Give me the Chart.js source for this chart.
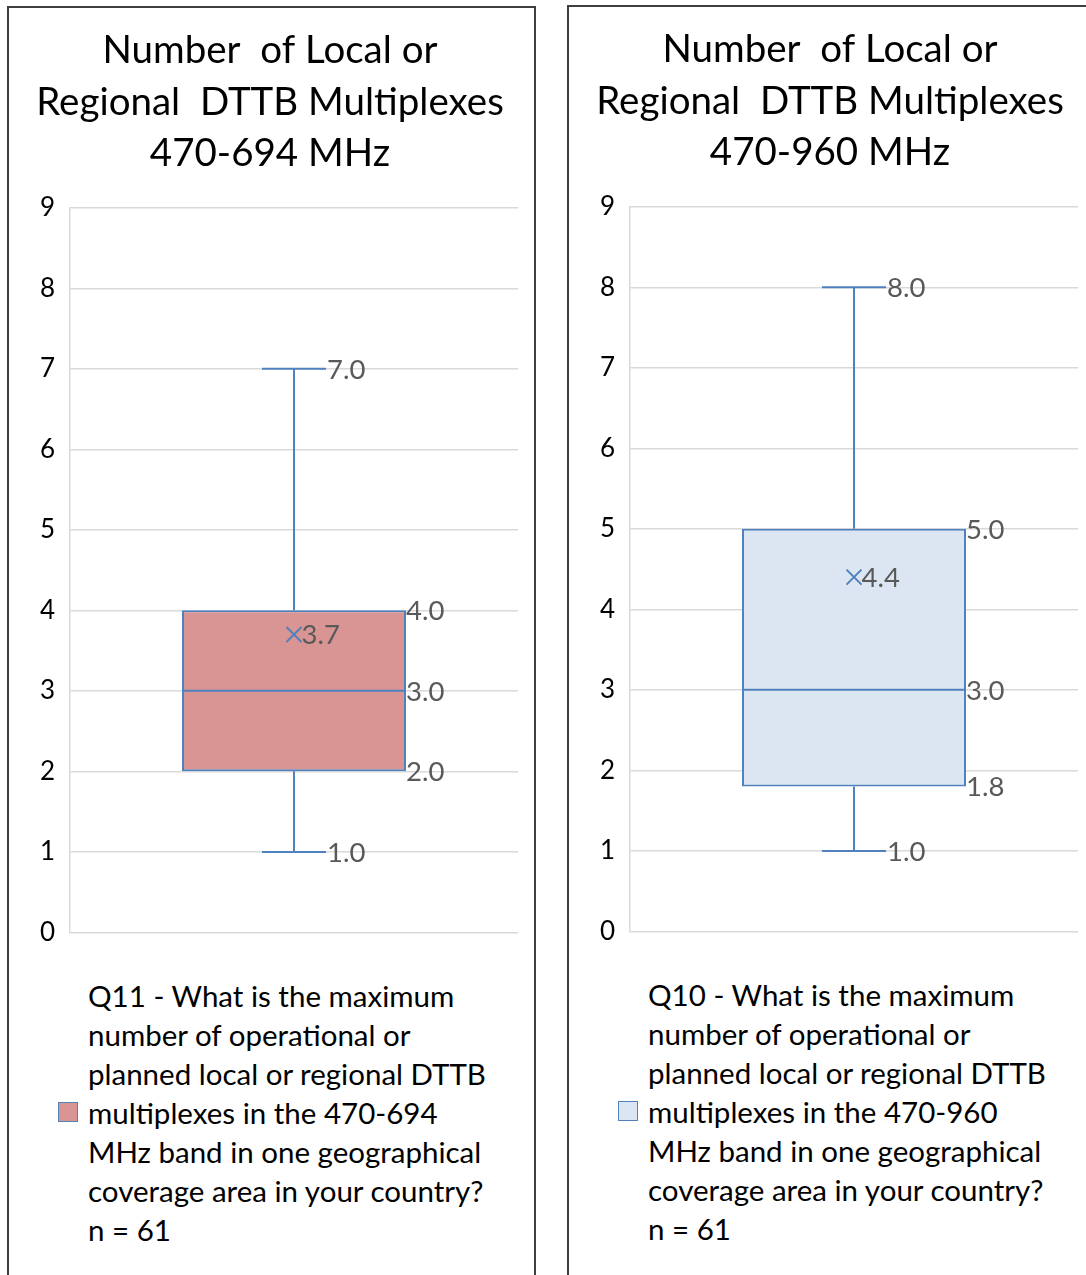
<!DOCTYPE html>
<html>
<head>
<meta charset="utf-8">
<script src="https://cdn.jsdelivr.net/npm/chart.js@4.4.1/dist/chart.umd.min.js"></script>
<style>
  html, body { margin: 0; padding: 0; background: #fff; width: 1086px; height: 1275px; overflow: hidden; }
  .panel { position: absolute; box-sizing: border-box; border: 2px solid #3f3f3f; height: 1320px; background: #fff; }
  #p1 { left: 7px; top: 6px; width: 529px; }
  #p2 { left: 567px; top: 5px; width: 560px; }
  .wrap { position: absolute; left: 13px; top: 0; width: 496px; height: 955px; }
  .legend { position: absolute; left: 49px; top: 968px; width: 460px; font-family: Lato, sans-serif; font-size: 29.5px; line-height: 39px; color: #000; white-space: nowrap; }
  .legend .txt { margin-left: 30px; }
  .legend .sw { position: absolute; left: 0; top: 126px; width: 20px; height: 20px; border: 1.5px solid #4f81bd; box-sizing: border-box; }
</style>
</head>
<body>
<div class="panel" id="p1">
  <div class="wrap"><canvas id="c1"></canvas></div>
  <div class="legend"><span class="sw" style="background:#d99594"></span><div class="txt" id="lg1"></div></div>
</div>
<div class="panel" id="p2">
  <div class="wrap"><canvas id="c2"></canvas></div>
  <div class="legend"><span class="sw" style="background:#dce6f2"></span><div class="txt" id="lg2"></div></div>
</div>
<script>
// Five-number summaries plus mean for the two survey questions
const titlesLow  = ['Number  of Local or', 'Regional  DTTB Multiplexes', '470-694 MHz'];
const titlesHigh = ['Number  of Local or', 'Regional  DTTB Multiplexes', '470-960 MHz'];
const statsLow  = { min: 1.0, q1: 2.0, median: 3.0, q3: 4.0, max: 7.0, mean: 3.7 };
const statsHigh = { min: 1.0, q1: 1.8, median: 3.0, q3: 5.0, max: 8.0, mean: 4.4 };
const legendLow  = ['Q11 - What is the maximum', 'number of operational or', 'planned local or regional DTTB', 'multiplexes in the 470-694', 'MHz band in one geographical', 'coverage area in your country?', 'n = 61'];
const legendHigh = ['Q10 - What is the maximum', 'number of operational or', 'planned local or regional DTTB', 'multiplexes in the 470-960', 'MHz band in one geographical', 'coverage area in your country?', 'n = 61'];
const yTicks = [0, 1, 2, 3, 4, 5, 6, 7, 8, 9];

const LINE = '#4f81bd';
const LABEL = '#595959';
const FONT = 'Lato, sans-serif';

// Whiskers, median, mean marker and value labels, placed via the y scale
const boxPlotExtras = {
  id: 'boxPlotExtras',
  afterDatasetsDraw(chart, args, opts) {
    const s = opts.stats;
    const y = chart.scales.y;
    const bar = chart.getDatasetMeta(0).data[0];
    const cx = bar.x;
    const half = bar.width / 2;
    const capHalf = bar.width * 0.143;
    const py = v => y.getPixelForValue(v);
    const ctx = chart.ctx;
    ctx.save();
    ctx.strokeStyle = LINE;
    ctx.lineWidth = 2;
    ctx.beginPath();
    // upper whisker
    ctx.moveTo(cx, py(s.q3)); ctx.lineTo(cx, py(s.max));
    ctx.moveTo(cx - capHalf, py(s.max)); ctx.lineTo(cx + capHalf, py(s.max));
    // lower whisker
    ctx.moveTo(cx, py(s.q1)); ctx.lineTo(cx, py(s.min));
    ctx.moveTo(cx - capHalf, py(s.min)); ctx.lineTo(cx + capHalf, py(s.min));
    // median
    ctx.moveTo(cx - half, py(s.median)); ctx.lineTo(cx + half, py(s.median));
    ctx.stroke();
    // mean marker
    const m = 7.5;
    const my = py(s.mean);
    ctx.beginPath();
    ctx.moveTo(cx - m, my - m); ctx.lineTo(cx + m, my + m);
    ctx.moveTo(cx - m, my + m); ctx.lineTo(cx + m, my - m);
    ctx.stroke();
    // value labels
    ctx.fillStyle = LABEL;
    ctx.font = '27.5px ' + FONT;
    ctx.textAlign = 'left';
    ctx.textBaseline = 'middle';
    const f = v => v.toFixed(1);
    ctx.fillText(f(s.max), cx + capHalf + 1, py(s.max) + 1);
    ctx.fillText(f(s.min), cx + capHalf + 1, py(s.min) + 1);
    ctx.fillText(f(s.q3), cx + half, py(s.q3) + 1);
    ctx.fillText(f(s.median), cx + half, py(s.median) + 1);
    ctx.fillText(f(s.q1), cx + half, py(s.q1) + 1);
    ctx.fillText(f(s.mean), cx + m, my + 1);
    ctx.restore();
  }
};

function makeChart(id, titleLines, stats, fill) {
  return new Chart(document.getElementById(id), {
    type: 'bar',
    data: {
      labels: [''],
      datasets: [{
        data: [[stats.q1, stats.q3]],
        backgroundColor: fill,
        borderColor: LINE,
        borderWidth: 2,
        borderSkipped: false,
        categoryPercentage: 1,
        barPercentage: 0.5
      }]
    },
    plugins: [boxPlotExtras],
    options: {
      responsive: true,
      maintainAspectRatio: false,
      animation: false,
      events: [],
      layout: { padding: { left: 0, right: 0, top: 0, bottom: 16 } },
      plugins: {
        legend: { display: false },
        tooltip: { enabled: false },
        title: {
          display: true,
          text: titleLines,
          color: '#000',
          font: { family: FONT, size: 38.5, weight: 'normal', lineHeight: 1.34 },
          padding: { top: 17, bottom: 28 }
        },
        boxPlotExtras: { stats: stats }
      },
      scales: {
        x: { display: false },
        y: {
          min: 0, max: 9,
          afterBuildTicks(scale) { scale.ticks = yTicks.map(v => ({ value: v })); },
          afterFit(scale) { scale.width = 48; },
          ticks: { color: '#000', font: { family: FONT, size: 26 }, padding: 15, autoSkip: false },
          grid: { color: '#d9d9d9', lineWidth: 1.5, drawTicks: false },
          border: { display: true, color: '#d9d9d9', width: 1.5 }
        }
      }
    }
  });
}

makeChart('c1', titlesLow, statsLow, '#d99594');
makeChart('c2', titlesHigh, statsHigh, '#dce6f2');
document.getElementById('lg1').innerHTML = legendLow.join('<br>');
document.getElementById('lg2').innerHTML = legendHigh.join('<br>');
</script>
</body>
</html>
